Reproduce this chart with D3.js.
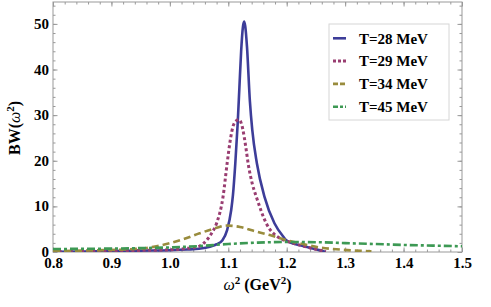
<!DOCTYPE html>
<html>
<head>
	<meta charset="UTF-8">
	<title>BW(w^2)</title>
	<script src="https://cdnjs.cloudflare.com/ajax/libs/d3/7.8.5/d3.min.js"></script>
	<style>
		body { margin: 0; background: #fff; }
		text { font-family: "Liberation Serif", "Times New Roman", serif; font-weight: bold; }
		.axis path { display: none; }
		.axis line { stroke: #999; }
	</style>
</head>

<body>
	<script>
		// values
		var legendLabels = ["T=28 MeV", "T=29 MeV", "T=34 MeV", "T=45 MeV"];
		var xTicks = [0.8, 0.9, 1.0, 1.1, 1.2, 1.3, 1.4, 1.5];
		var yTicks = [0, 10, 20, 30, 40, 50];

		var w28 = [0.80, 0.85, 0.90, 0.95, 1.00, 1.03, 1.05, 1.07, 1.08, 1.09, 1.098, 1.105, 1.108, 1.112, 1.116, 1.119, 1.122, 1.125, 1.127, 1.129, 1.132, 1.137, 1.141, 1.149, 1.162, 1.179, 1.194, 1.20, 1.228, 1.25, 1.267];
		var bw28 = [0.05, 0.1, 0.2, 0.3, 0.4, 0.55, 0.7, 1.2, 1.7, 2.6, 4.8, 9.2, 12.5, 19.4, 28, 36, 44, 49.3, 50.5, 49.5, 45, 33, 26.8, 19.4, 12.1, 6.3, 3.4, 2.5, 1.3, 0.6, 0.0];

		var w29 = [0.80, 0.85, 0.90, 0.95, 1.00, 1.023, 1.04, 1.051, 1.063, 1.072, 1.080, 1.091, 1.098, 1.104, 1.108, 1.113, 1.118, 1.122, 1.125, 1.130, 1.134, 1.141, 1.148, 1.165, 1.19, 1.20, 1.228, 1.25, 1.267];
		var bw29 = [0.1, 0.15, 0.25, 0.35, 0.5, 0.7, 1.0, 1.3, 2.6, 4.2, 6.3, 12.1, 19.4, 25, 27.5, 28.7, 29.0, 28.3, 26.8, 23, 19.4, 15, 12.1, 6.3, 2.9, 2.4, 1.3, 0.6, 0.1];

		var w34 = [0.80, 0.85, 0.90, 0.937, 0.966, 0.994, 1.023, 1.051, 1.08, 1.095, 1.12, 1.142, 1.171, 1.20, 1.228, 1.256, 1.285, 1.31, 1.336, 1.345];
		var bw34 = [0.2, 0.3, 0.45, 0.65, 1.0, 1.75, 2.8, 4.1, 5.3, 5.8, 5.5, 4.7, 3.7, 2.6, 1.75, 1.0, 0.6, 0.35, 0.2, 0.15];

		var w45 = [0.80, 0.85, 0.90, 0.95, 1.00, 1.05, 1.10, 1.15, 1.20, 1.25, 1.30, 1.35, 1.40, 1.45, 1.50];
		var bw45 = [0.65, 0.7, 0.75, 0.85, 1.0, 1.3, 1.75, 2.05, 2.2, 2.15, 1.95, 1.75, 1.55, 1.4, 1.25];

		var series = [d3.zip(w28, bw28), d3.zip(w29, bw29), d3.zip(w34, bw34), d3.zip(w45, bw45)];
		var colors = ["#3d3d99", "#993d71", "#998c3d", "#3d9954"];
		var dashes = [null, "3,2.6", "7,4", "8,3,3,3"];
		var widths = [2.6, 3, 2.6, 2.6];

		// plot frame
		var margin = {top: 2, right: 29, bottom: 55, left: 53},
		    width = 491 - margin.left - margin.right,
		    height = 307 - margin.top - margin.bottom;

		var x = d3.scaleLinear().domain([0.8, 1.5]).range([0, width]);
		var y = d3.scaleLinear().domain([0, 54.8]).range([height, 0]);

		var svg = d3.select("body").append("svg")
		    .attr("width", 491)
		    .attr("height", 307)
		    .append("g")
		    .attr("transform", "translate(" + margin.left + "," + margin.top + ")");

		svg.append("clipPath").attr("id", "clip")
		    .append("rect").attr("width", width).attr("height", height);

		var xMinor = d3.range(0.8, 1.5001, 0.02),
		    yMinor = d3.range(0, 54.8, 2);

		// ticks point inward on all four sides
		function addAxis(axis, values, size, tr, labels) {
		    var g = svg.append("g").attr("class", "axis").attr("transform", tr)
		        .call(axis.tickValues(values).tickSize(size).tickFormat(labels ? null : ""));
		    return g;
		}
		addAxis(d3.axisBottom(x), xMinor, -2.5, "translate(0," + height + ")", false);
		addAxis(d3.axisTop(x), xMinor, -2.5, null, false);
		addAxis(d3.axisLeft(y), yMinor, -2.5, null, false);
		addAxis(d3.axisRight(y), yMinor, -2.5, "translate(" + width + ",0)", false);
		addAxis(d3.axisTop(x), xTicks, -4.5, null, false);
		addAxis(d3.axisRight(y), yTicks, -4.5, "translate(" + width + ",0)", false);

		addAxis(d3.axisBottom(x), xTicks, -4.5, "translate(0," + height + ")", true)
		    .selectAll("text")
		    .attr("y", 16)
		    .attr("dy", 0)
		    .style("font-size", "15px")
		    .style("fill", "#000")
		    .text(function(d) { return d3.format(".1f")(d); });

		addAxis(d3.axisLeft(y), yTicks, -4.5, null, true)
		    .selectAll("text")
		    .attr("x", -4)
		    .attr("dy", "0.3em")
		    .style("font-size", "15px")
		    .style("fill", "#000");

		svg.append("rect")
		    .attr("width", width)
		    .attr("height", height)
		    .attr("fill", "none")
		    .attr("stroke", "#999")
		    .attr("stroke-width", 1);

		// curves
		var line = d3.line()
		    .x(function(d) { return x(d[0]); })
		    .y(function(d) { return y(d[1]); })
		    .curve(d3.curveMonotoneX);

		svg.append("g").attr("clip-path", "url(#clip)")
		    .selectAll("path")
		    .data(series)
		    .enter().append("path")
		    .attr("d", line)
		    .attr("fill", "none")
		    .attr("stroke", function(d, i) { return colors[i]; })
		    .attr("stroke-width", function(d, i) { return widths[i]; })
		    .attr("stroke-dasharray", function(d, i) { return dashes[i]; });

		// axis labels
		var yl = svg.append("text")
		    .attr("transform", "translate(-33," + (y(27.2)) + ") rotate(-90)")
		    .style("text-anchor", "middle")
		    .style("font-size", "16px");
		yl.append("tspan").text("BW(");
		yl.append("tspan").style("font-style", "italic").style("font-weight", "normal").text("\u03c9");
		yl.append("tspan").attr("dy", -6).style("font-size", "11px").text("2");
		yl.append("tspan").attr("dy", 6).text(")");

		var xl = svg.append("text")
		    .attr("x", x(1.15))
		    .attr("y", height + 38)
		    .style("text-anchor", "middle")
		    .style("font-size", "16px");
		xl.append("tspan").style("font-style", "italic").style("font-weight", "normal").text("\u03c9");
		xl.append("tspan").attr("dy", -6).style("font-size", "11px").text("2");
		xl.append("tspan").attr("dy", 6).text(" (GeV");
		xl.append("tspan").attr("dy", -6).style("font-size", "11px").text("2");
		xl.append("tspan").attr("dy", 6).text(")");

		// legend
		var legend = svg.append("g").attr("transform", "translate(" + (329 - margin.left) + "," + (24 - margin.top) + ")");
		legend.append("rect")
		    .attr("width", 120)
		    .attr("height", 96)
		    .attr("fill", "#fff")
		    .attr("stroke", "#d6d6d6");

		var rows = legend.selectAll(".row")
		    .data(legendLabels)
		    .enter().append("g")
		    .attr("class", "row")
		    .attr("transform", function(d, i) { return "translate(0," + (14.3 + i * 22.8) + ")"; });
		rows.append("line")
		    .attr("x1", 4).attr("x2", 17)
		    .attr("stroke", function(d, i) { return colors[i]; })
		    .attr("stroke-width", function(d, i) { return widths[i]; })
		    .attr("stroke-dasharray", function(d, i) { return i == 1 ? "3,2" : (i == 2 ? "5,2" : (i == 3 ? "5,2,3,2" : null)); });
		rows.append("text")
		    .attr("x", 30)
		    .attr("dy", "0.35em")
		    .style("font-size", "15px")
		    .text(function(d) { return d; });
	</script>
</body>
</html>
